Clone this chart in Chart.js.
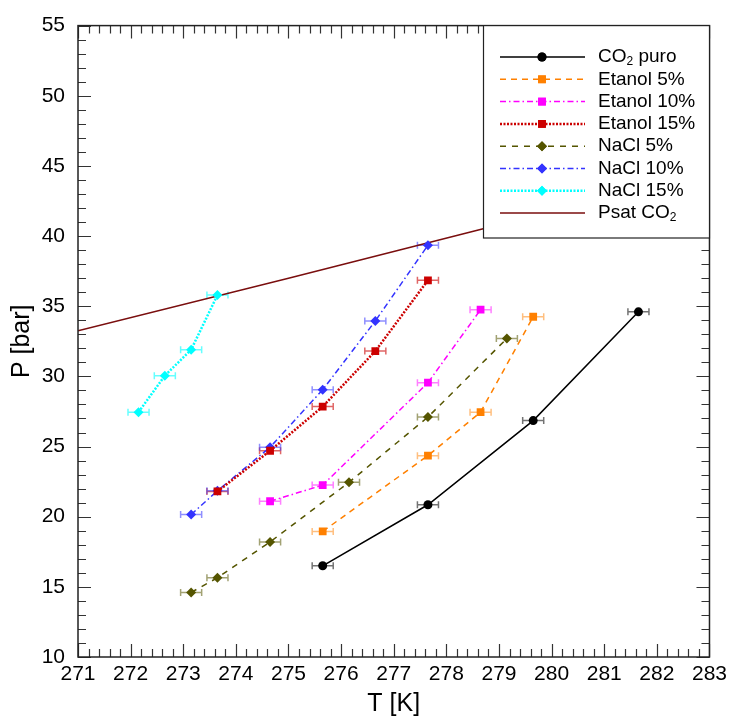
<!DOCTYPE html>
<html>
<head>
<meta charset="utf-8">
<script src="https://cdn.jsdelivr.net/npm/chart.js@4.4.0/dist/chart.umd.min.js"></script>
<style>
  html, body { margin: 0; padding: 0; background: #fff; }
</style>
</head>
<body>
<canvas id="chart" width="732" height="717"></canvas>
<script>
// temperatures (K) and pressures (bar)
const tCO2 = [275.65, 277.65, 279.65, 281.65]
const pCO2 = [16.5, 20.85, 26.85, 34.6]
const tEt5 = [275.65, 277.65, 278.65, 279.65]
const pEt5 = [18.95, 24.35, 27.45, 34.25]
const tEt10 = [274.65, 275.65, 277.65, 278.65]
const pEt10 = [21.1, 22.25, 29.55, 34.75]
const tEt15 = [273.65, 274.65, 275.65, 276.65, 277.65]
const pEt15 = [21.8, 24.7, 27.85, 31.8, 36.85]
const tNa5 = [273.15, 273.65, 274.65, 276.15, 277.65, 279.15]
const pNa5 = [14.6, 15.65, 18.2, 22.45, 27.1, 32.7]
const tNa10 = [273.15, 273.65, 274.65, 275.65, 276.65, 277.65]
const pNa10 = [20.15, 21.85, 24.95, 29.05, 33.95, 39.35]
const tNa15 = [272.15, 272.65, 273.15, 273.65]
const pNa15 = [27.45, 30.05, 31.9, 35.8]
const tPsat = [271, 275, 279, 283]
const pPsat = [33.25, 37.0, 40.8, 44.6]

// horizontal error on T (K)
const errT = 0.2

const labels = ['CO₂ puro', 'Etanol 5%', 'Etanol 10%', 'Etanol 15%', 'NaCl 5%', 'NaCl 10%', 'NaCl 15%', 'Psat CO₂']

const xMin = 271, xMax = 283, xStep = 1
const yMin = 10, yMax = 55, yStep = 5
const minorDiv = 5

function pts(ts, ps) {
  return ts.map((t, i) => ({ x: t, y: ps[i] }))
}

function series(label, ts, ps, color, errColor, dash, width, style, radius) {
  return {
    label: label,
    data: pts(ts, ps),
    showLine: true,
    borderColor: color,
    backgroundColor: color,
    borderWidth: width,
    borderDash: dash,
    pointStyle: style,
    pointRadius: radius,
    pointBorderWidth: 0,
    pointHoverRadius: radius,
    errColor: errColor
  }
}

const errorBars = {
  id: 'errorBars',
  beforeDatasetsDraw(chart) {
    const { ctx, scales: { x, y } } = chart
    chart.data.datasets.forEach((ds) => {
      if (!ds.errColor) return
      ctx.save()
      ctx.strokeStyle = ds.errColor
      ctx.lineWidth = 1.5
      ds.data.forEach((p) => {
        const x0 = x.getPixelForValue(p.x - errT)
        const x1 = x.getPixelForValue(p.x + errT)
        const py = y.getPixelForValue(p.y)
        ctx.beginPath()
        ctx.moveTo(x0, py); ctx.lineTo(x1, py)
        ctx.moveTo(x0, py - 3.5); ctx.lineTo(x0, py + 3.5)
        ctx.moveTo(x1, py - 3.5); ctx.lineTo(x1, py + 3.5)
        ctx.stroke()
      })
      ctx.restore()
    })
  }
}

// frame with inward ticks on all four sides
const frameTicks = {
  id: 'frameTicks',
  afterDatasetsDraw(chart) {
    const { ctx, chartArea: a, scales: { x, y } } = chart
    ctx.save()
    ctx.strokeStyle = '#333'
    ctx.lineWidth = 1.2
    ctx.beginPath()
    const xs = xStep / minorDiv
    for (let i = 0; i <= (xMax - xMin) / xs + 1e-6; i++) {
      const v = xMin + i * xs
      const px = Math.round(x.getPixelForValue(v)) + 0.5
      const len = i % minorDiv === 0 ? 13 : 8
      ctx.moveTo(px, a.bottom); ctx.lineTo(px, a.bottom - len)
      ctx.moveTo(px, a.top); ctx.lineTo(px, a.top + len)
    }
    const ys = yStep / minorDiv
    for (let i = 0; i <= (yMax - yMin) / ys + 1e-6; i++) {
      const v = yMin + i * ys
      const py = Math.round(y.getPixelForValue(v)) + 0.5
      const len = i % minorDiv === 0 ? 13 : 8
      ctx.moveTo(a.left, py); ctx.lineTo(a.left + len, py)
      ctx.moveTo(a.right, py); ctx.lineTo(a.right - len, py)
    }
    ctx.stroke()
    ctx.lineWidth = 1.5
    ctx.strokeStyle = '#222'
    ctx.strokeRect(a.left, a.top, a.right - a.left, a.bottom - a.top)
    ctx.restore()
  }
}

function drawLabel(ctx, text, x, y) {
  const parts = text.split('₂')
  let cx = x
  parts.forEach((part, i) => {
    ctx.font = '19px "Liberation Sans", Arial, sans-serif'
    ctx.fillText(part, cx, y)
    cx += ctx.measureText(part).width
    if (i < parts.length - 1) {
      ctx.font = '12px "Liberation Sans", Arial, sans-serif'
      ctx.fillText('2', cx, y + 5)
      cx += ctx.measureText('2').width
    }
  })
}

const boxLegend = {
  id: 'boxLegend',
  afterDraw(chart) {
    const { ctx, chartArea: a } = chart
    const left = 483, top = a.top, right = a.right, bottom = 238
    ctx.save()
    ctx.fillStyle = '#fff'
    ctx.fillRect(left, top, right - left, bottom - top)
    ctx.strokeStyle = '#222'
    ctx.lineWidth = 1.2
    ctx.strokeRect(left + 0.5, top, right - left - 0.5, bottom - top)
    chart.data.datasets.forEach((ds, i) => {
      const ry = 57 + i * 22.3
      ctx.save()
      ctx.strokeStyle = ds.borderColor
      ctx.lineWidth = ds.borderWidth
      ctx.setLineDash(ds.borderDash || [])
      ctx.beginPath()
      ctx.moveTo(500, ry); ctx.lineTo(585, ry)
      ctx.stroke()
      ctx.restore()
      if (ds.pointRadius > 0) {
        ctx.fillStyle = ds.backgroundColor
        Chart.helpers.drawPoint(ctx, { pointStyle: ds.pointStyle, radius: ds.pointRadius, borderWidth: 0, rotation: 0 }, 542, ry)
        ctx.fill()
      }
      ctx.fillStyle = '#000'
      ctx.textBaseline = 'middle'
      ctx.textAlign = 'left'
      drawLabel(ctx, ds.label, 598, ry)
    })
    ctx.restore()
  }
}

const tickFont = { family: '"Liberation Sans", Arial, sans-serif', size: 21 }
const titleFont = { family: '"Liberation Sans", Arial, sans-serif', size: 25 }

window.addEventListener('load', function () {
  const ctx = document.getElementById('chart')
  new Chart(ctx, {
    type: 'scatter',
    data: {
      datasets: [
        series(labels[0], tCO2, pCO2, '#000000', 'rgba(0,0,0,0.55)', [], 1.5, 'circle', 4.5),
        series(labels[1], tEt5, pEt5, '#ff8000', 'rgba(255,128,0,0.5)', [6, 5], 1.5, 'rect', 5.5),
        series(labels[2], tEt10, pEt10, '#ff00ff', 'rgba(255,0,255,0.5)', [6, 3, 1.5, 3], 1.5, 'rect', 5.5),
        series(labels[3], tEt15, pEt15, '#cc0000', 'rgba(204,0,0,0.6)', [2, 1.5], 2.5, 'rect', 5.5),
        series(labels[4], tNa5, pNa5, '#555500', 'rgba(85,85,0,0.55)', [6, 6], 1.5, 'rectRot', 5),
        series(labels[5], tNa10, pNa10, '#3333ff', 'rgba(51,51,255,0.55)', [6, 3, 1.5, 3], 1.5, 'rectRot', 5),
        series(labels[6], tNa15, pNa15, '#00ffff', 'rgba(0,255,255,0.6)', [2, 1.5], 2.5, 'rectRot', 5),
        {
          label: labels[7],
          data: pts(tPsat, pPsat),
          showLine: true,
          borderColor: '#7a0e0e',
          backgroundColor: '#7a0e0e',
          borderWidth: 1.5,
          borderDash: [],
          pointRadius: 0,
          pointHoverRadius: 0
        }
      ]
    },
    options: {
      responsive: false,
      animation: false,
      events: [],
      layout: { padding: { top: 22, right: 21, left: 0, bottom: 0 } },
      plugins: {
        legend: { display: false },
        tooltip: { enabled: false }
      },
      scales: {
        x: {
          type: 'linear',
          min: xMin,
          max: xMax,
          grid: { display: false, drawTicks: false },
          border: { display: false },
          ticks: { stepSize: xStep, color: '#000', font: tickFont, padding: 5, maxRotation: 0, callback: (v) => v },
          title: { display: true, text: 'T [K]', color: '#000', font: titleFont, padding: { top: -2, bottom: -2 } },
          afterFit: (s) => { s.height = 60 }
        },
        y: {
          type: 'linear',
          min: yMin,
          max: yMax,
          grid: { display: false, drawTicks: false },
          border: { display: false },
          ticks: { stepSize: yStep, color: '#000', font: tickFont, padding: 13 },
          title: { display: true, text: 'P [bar]', color: '#000', font: titleFont, padding: { top: 7, bottom: 7 } },
          afterFit: (s) => { s.width = 78 }
        }
      }
    },
    plugins: [errorBars, frameTicks, boxLegend]
  })
})
</script>
</body>
</html>
